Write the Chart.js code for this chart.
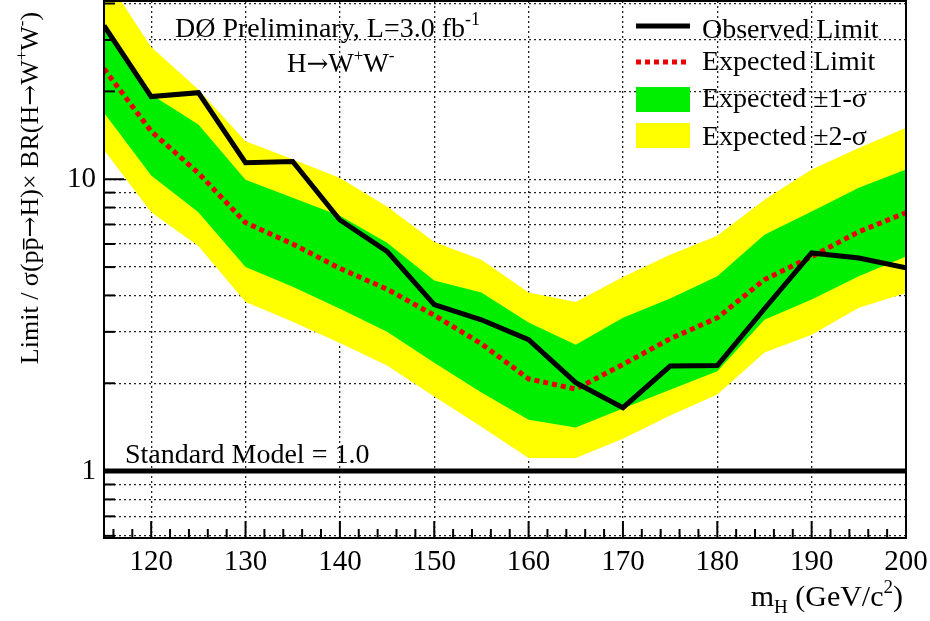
<!DOCTYPE html>
<html>
<head>
<meta charset="utf-8">
<script src="https://cdn.jsdelivr.net/npm/chart.js@4"></script>
<style>
  html, body { margin: 0; padding: 0; background: #fff; }
  #limits { display: block; }
</style>
</head>
<body>
<canvas id="limits" width="930" height="621"></canvas>
<script>
// Higgs mass points (GeV/c^2)
var masses = [115, 120, 125, 130, 135, 140, 145, 150, 155, 160, 165, 170, 175, 180, 185, 190, 195, 200];

// limit / SM ratio
var observed = [33.6, 19.2, 19.8, 11.4, 11.5, 7.25, 5.66, 3.72, 3.30, 2.82, 2.01, 1.65, 2.29, 2.30, 3.6, 5.59, 5.37, 4.97];
var expected = [23.9, 14.6, 10.5, 7.1, 6.0, 4.95, 4.2, 3.42, 2.73, 2.07, 1.91, 2.32, 2.84, 3.35, 4.53, 5.43, 6.61, 7.68];

// expected bands
var sig1Up = [32.5, 19.5, 15.4, 9.95, 8.64, 7.5, 6.06, 4.5, 4.09, 3.23, 2.71, 3.35, 3.9, 4.65, 6.46, 7.76, 9.35, 10.8];
var sig1Dn = [16.9, 10.3, 7.7, 5.0, 4.28, 3.6, 3.0, 2.35, 1.86, 1.50, 1.41, 1.64, 1.90, 2.20, 3.30, 3.87, 4.65, 5.44];
var sig2Up = [50, 28.4, 20.3, 13.5, 11.7, 10.1, 8.07, 6.1, 5.30, 4.09, 3.8, 4.62, 5.51, 6.4, 8.5, 10.8, 12.8, 15.0];
var sig2Dn = [12.6, 7.7, 5.9, 3.8, 3.25, 2.75, 2.3, 1.8, 1.42, 1.11, 1.11, 1.29, 1.55, 1.83, 2.55, 2.93, 3.63, 4.08];

var smLevel = 1.0;

// axis ticks
var xTickVals = [120, 130, 140, 150, 160, 170, 180, 190, 200];
var yTickVals = [0.6, 0.7, 0.8, 0.9, 1, 2, 3, 4, 5, 6, 7, 8, 9, 10, 20, 30, 40];
var yTickLabels = { 1: '1', 10: '10' };

var SERIF = "'Liberation Serif', 'Times New Roman', serif";
var ARROW_FONT = "'DejaVu Serif', serif";
var GREEN = 'rgb(0, 238, 0)';
var YELLOW = 'rgb(255, 255, 0)';
var RED = 'rgb(235, 0, 0)';

function pts(arr) {
    return masses.map(function (m, i) { return { x: m, y: arr[i] }; });
}

function partFont(p, size) {
    if (p[1] === 'sup' || p[1] === 'sub') return Math.round(size * 0.64) + 'px ' + SERIF;
    if (p[1] === 'arrow') return Math.round(size * 0.95) + 'px ' + ARROW_FONT;
    return size + 'px ' + SERIF;
}

// text with sup/sub/overline pieces
function richText(ctx, parts, x, y, size, align) {
    var widths = parts.map(function (p) {
        ctx.font = partFont(p, size);
        return ctx.measureText(p[0]).width;
    });
    var total = widths.reduce(function (a, b) { return a + b; }, 0);
    if (align === 'right') x -= total;
    if (align === 'center') x -= total / 2;
    ctx.textAlign = 'left';
    ctx.textBaseline = 'alphabetic';
    parts.forEach(function (p, i) {
        var dy = 0;
        if (p[1] === 'sup') dy = -size * 0.42;
        if (p[1] === 'sub') dy = size * 0.22;
        ctx.font = partFont(p, size);
        ctx.fillText(p[0], x, y + dy);
        if (p[1] === 'bar') {
            ctx.beginPath();
            ctx.lineWidth = 1.5;
            ctx.moveTo(x + 1, y - size * 0.55);
            ctx.lineTo(x + widths[i] - 1, y - size * 0.55);
            ctx.stroke();
        }
        x += widths[i];
    });
}

function seg(ctx, x1, y1, x2, y2) {
    ctx.beginPath();
    ctx.moveTo(x1, y1);
    ctx.lineTo(x2, y2);
    ctx.stroke();
}

var decorations = {
    id: 'decorations',
    afterDatasetsDraw: function (chart) {
        var ctx = chart.ctx;
        var a = chart.chartArea;
        var xs = chart.scales.x, ys = chart.scales.y;
        ctx.save();
        ctx.strokeStyle = '#000';
        ctx.fillStyle = '#000';
        ctx.lineWidth = 2;

        // inner tick marks
        for (var m = 116; m < 200; m += 2) {
            var px = xs.getPixelForValue(m);
            seg(ctx, px, a.bottom, px, a.bottom - (m % 10 === 0 ? 17 : 9));
        }
        yTickVals.forEach(function (v) {
            var py = ys.getPixelForValue(v);
            seg(ctx, a.left, py, a.left + (yTickLabels[v] ? 20 : 11), py);
        });

        // frame
        ctx.strokeRect(a.left, a.top, a.right - a.left, a.bottom - a.top);

        // header
        richText(ctx, [['DØ Preliminary, L=3.0 fb'], ['-1', 'sup']], 175, 37, 28);
        richText(ctx, [['H'], ['→', 'arrow'], ['W'], ['+', 'sup'], ['W'], ['-', 'sup']], 287, 72, 27);

        // legend
        ctx.lineWidth = 5;
        ctx.strokeStyle = '#000';
        seg(ctx, 636, 26, 690, 26);
        ctx.strokeStyle = RED;
        ctx.setLineDash([5, 4]);
        seg(ctx, 636, 62, 690, 62);
        ctx.setLineDash([]);
        ctx.fillStyle = GREEN;
        ctx.fillRect(636, 87, 54, 25);
        ctx.fillStyle = YELLOW;
        ctx.fillRect(636, 123, 54, 25);
        ctx.fillStyle = '#000';
        ctx.strokeStyle = '#000';
        richText(ctx, [['Observed Limit']], 702, 38, 28);
        richText(ctx, [['Expected Limit']], 702, 70, 28);
        richText(ctx, [['Expected ±1-σ']], 702, 107, 28);
        richText(ctx, [['Expected ±2-σ']], 702, 145, 28);

        // SM reference
        richText(ctx, [['Standard Model = 1.0']], 125, 463, 28);

        // axis titles
        richText(ctx, [['m'], ['H', 'sub'], [' (GeV/c'], ['2', 'sup'], [')']], 903, 606, 30, 'right');
        ctx.save();
        ctx.translate(38, 188);
        ctx.rotate(-Math.PI / 2);
        richText(ctx, [['Limit / σ(p'], ['p', 'bar'], ['→', 'arrow'], ['H)× BR(H'], ['→', 'arrow'], ['W'], ['+', 'sup'], ['W'], ['-', 'sup'], [')']], 0, 0, 26, 'center');
        ctx.restore();

        ctx.restore();
    }
};

var ctx = document.getElementById('limits').getContext('2d');
var chart = new Chart(ctx, {
    type: 'line',
    data: {
        datasets: [
            { label: 'Observed Limit', data: pts(observed), borderColor: '#000', borderWidth: 5, fill: false },
            { label: 'Expected Limit', data: pts(expected), borderColor: RED, borderWidth: 5, borderDash: [5, 4], fill: false },
            { label: 'Standard Model', data: [{ x: 115, y: smLevel }, { x: 200, y: smLevel }], borderColor: '#000', borderWidth: 5, fill: false },
            { label: 'Expected ±1-σ', data: pts(sig1Up), borderColor: 'rgba(0,0,0,0)', borderWidth: 0, backgroundColor: GREEN, fill: '+1' },
            { label: '-1σ', data: pts(sig1Dn), borderColor: 'rgba(0,0,0,0)', borderWidth: 0, fill: false },
            { label: 'Expected ±2-σ', data: pts(sig2Up), borderColor: 'rgba(0,0,0,0)', borderWidth: 0, backgroundColor: YELLOW, fill: '+1' },
            { label: '-2σ', data: pts(sig2Dn), borderColor: 'rgba(0,0,0,0)', borderWidth: 0, fill: false }
        ]
    },
    options: {
        responsive: false,
        animation: false,
        layout: { padding: { top: 1, right: 24, left: 0, bottom: 0 } },
        elements: { point: { radius: 0, hoverRadius: 0 }, line: { tension: 0 } },
        plugins: { legend: { display: false }, tooltip: { enabled: false } },
        scales: {
            x: {
                type: 'linear',
                min: 115,
                max: 200,
                afterBuildTicks: function (s) { s.ticks = xTickVals.map(function (v) { return { value: v }; }); },
                afterFit: function (s) { s.height = 83; s.paddingLeft = 0; s.paddingRight = 0; },
                grid: { color: '#222', lineWidth: 1.3, drawTicks: false },
                border: { display: false, dash: [2, 3] },
                ticks: {
                    color: '#000',
                    padding: 7,
                    maxRotation: 0,
                    autoSkip: false,
                    font: { family: SERIF, size: 29 },
                    callback: function (v) { return String(v); }
                }
            },
            y: {
                type: 'logarithmic',
                min: 0.59,
                max: 40.8,
                afterBuildTicks: function (s) { s.ticks = yTickVals.map(function (v) { return { value: v }; }); },
                afterFit: function (s) { s.width = 104; s.paddingTop = 0; s.paddingBottom = 0; },
                grid: { color: '#222', lineWidth: 1.3, drawTicks: false },
                border: { display: false, dash: [2, 3] },
                ticks: {
                    color: '#000',
                    padding: 8,
                    autoSkip: false,
                    font: { family: SERIF, size: 29 },
                    callback: function (v) { return yTickLabels[v] || ''; }
                }
            }
        }
    },
    plugins: [decorations]
});
</script>
</body>
</html>
